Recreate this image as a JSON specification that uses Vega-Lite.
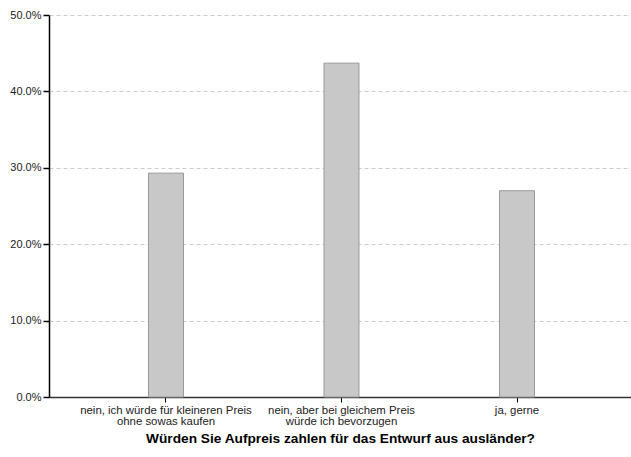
{
  "$schema": "https://vega.github.io/schema/vega-lite/v6.json",
  "width": 582,
  "height": 382,
  "autosize": {"type": "none"},
  "padding": {"left": 49, "top": 15, "right": 0, "bottom": 60},
  "background": "white",
  "config": {"view": {"stroke": null}, "font": "Liberation Sans"},
  "data": {
    "values": [
      {"antwort": "nein, ich würde für kleineren Preis ohne sowas kaufen", "anteil": 0.293},
      {"antwort": "nein, aber bei gleichem Preis würde ich bevorzugen", "anteil": 0.437},
      {"antwort": "ja, gerne", "anteil": 0.270}
    ]
  },
  "mark": {"type": "bar", "size": 35, "fill": "#c8c8c8", "stroke": "#9a9a9a", "strokeWidth": 1},
  "encoding": {
    "x": {
      "field": "antwort",
      "type": "nominal",
      "sort": null,
      "scale": {"paddingInner": 0, "paddingOuter": 0.158, "align": 0.527},
      "axis": {
        "title": "Würden Sie Aufpreis zahlen für das Entwurf aus ausländer?",
        "titleFontSize": 13.7,
        "titleFontWeight": "bold",
        "titleColor": "#000",
        "titlePadding": 5,
        "labelAngle": 0,
        "labelFontSize": 11.4,
        "labelColor": "#222",
        "labelLineHeight": 11,
        "labelPadding": 2,
        "labelExpr": "datum.label == 'nein, ich würde für kleineren Preis ohne sowas kaufen' ? ['nein, ich würde für kleineren Preis', 'ohne sowas kaufen'] : datum.label == 'nein, aber bei gleichem Preis würde ich bevorzugen' ? ['nein, aber bei gleichem Preis', 'würde ich bevorzugen'] : datum.label",
        "domainColor": "#333",
        "domainWidth": 1.5,
        "tickColor": "#000",
        "tickSize": 5,
        "tickWidth": 1
      }
    },
    "y": {
      "field": "anteil",
      "type": "quantitative",
      "scale": {"domain": [0, 0.5], "nice": false},
      "axis": {
        "title": null,
        "format": ".1%",
        "values": [0, 0.1, 0.2, 0.3, 0.4, 0.5],
        "labelFontSize": 11,
        "labelColor": "#222",
        "labelPadding": 2,
        "domainColor": "#000",
        "domainWidth": 1.5,
        "tickColor": "#000",
        "tickSize": 6,
        "tickWidth": 1.5,
        "grid": true,
        "gridColor": "#cccccc",
        "gridDash": [4, 3],
        "gridWidth": 1
      }
    }
  }
}
